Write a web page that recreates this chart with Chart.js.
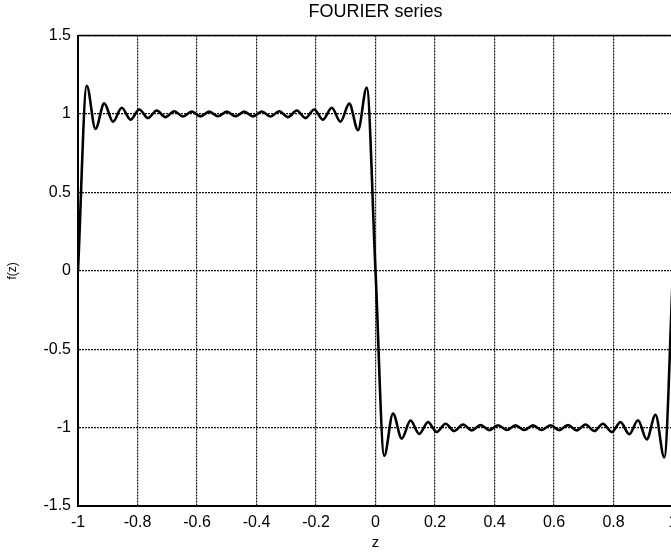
<!DOCTYPE html>
<html>
<head>
<meta charset="utf-8">
<script src="https://cdn.jsdelivr.net/npm/chart.js@4/dist/chart.umd.min.js"></script>
<style>
  html, body { margin: 0; padding: 0; background: #fff; overflow: hidden; }
  #wrap { width: 680px; height: 555px; }
</style>
</head>
<body>
<div id="wrap"><canvas id="c" width="680" height="555"></canvas></div>
<script>
// Partial Fourier sum of the square wave: crossings and ripple extrema
const zValues = [
  -1, -0.9706, -0.9412, -0.9118, -0.8824, -0.8529, -0.8235, -0.7941, -0.7647,
  -0.7353, -0.7059, -0.6765, -0.6471, -0.6176, -0.5882, -0.5588, -0.5294, -0.5,
  -0.4706, -0.4412, -0.4118, -0.3824, -0.3529, -0.3235, -0.2941, -0.2647,
  -0.2353, -0.2059, -0.1765, -0.1471, -0.1176, -0.0882, -0.0588, -0.0294,
  0,
  0.0294, 0.0588, 0.0882, 0.1176, 0.1471, 0.1765, 0.2059, 0.2353, 0.2647,
  0.2941, 0.3235, 0.3529, 0.3824, 0.4118, 0.4412, 0.4706, 0.5, 0.5294, 0.5588,
  0.5882, 0.6176, 0.6471, 0.6765, 0.7059, 0.7353, 0.7647, 0.7941, 0.8235,
  0.8529, 0.8824, 0.9118, 0.9412, 0.9706,
  1
];
const fValues = [
  0, 1.18, 0.905, 1.068, 0.951, 1.04, 0.964, 1.029, 0.974,
  1.022, 0.98, 1.018, 0.984, 1.016, 0.985, 1.015, 0.986, 1.015,
  0.986, 1.015, 0.985, 1.016, 0.984, 1.018, 0.98, 1.022,
  0.974, 1.029, 0.964, 1.04, 0.951, 1.066, 0.897, 1.168,
  0,
  -1.18, -0.91, -1.07, -0.955, -1.04, -0.965, -1.028, -0.975, -1.022,
  -0.98, -1.018, -0.984, -1.016, -0.985, -1.015, -0.986, -1.015, -0.986,
  -1.015, -0.985, -1.016, -0.984, -1.018, -0.98, -1.022, -0.975, -1.028,
  -0.965, -1.042, -0.953, -1.075, -0.918, -1.19,
  0
];

const xTickValues = [-1, -0.8, -0.6, -0.4, -0.2, 0, 0.2, 0.4, 0.6, 0.8, 1];
const xTickLabels = ['-1', '-0.8', '-0.6', '-0.4', '-0.2', '0', '0.2', '0.4', '0.6', '0.8', '1'];
const yTickValues = [-1.5, -1, -0.5, 0, 0.5, 1, 1.5];
const yTickLabels = ['-1.5', '-1', '-0.5', '0', '0.5', '1', '1.5'];

const titleText = 'FOURIER series';
const xAxisTitle = 'z';
const yAxisTitle = 'f(z)';

const FONT = '"Liberation Sans", Arial, Helvetica, sans-serif';

function labelFor(values, labels) {
  return (v) => {
    const i = values.findIndex(t => Math.abs(t - v) < 1e-9);
    return i >= 0 ? labels[i] : '';
  };
}

// solid frame on the top and right edges of the plot box
const framePlugin = {
  id: 'frame',
  afterDatasetsDraw(chart) {
    const { ctx, chartArea: a } = chart;
    ctx.save();
    ctx.strokeStyle = '#000';
    ctx.lineWidth = 1.5;
    ctx.beginPath();
    ctx.moveTo(a.left, a.top);
    ctx.lineTo(a.right, a.top);
    ctx.lineTo(a.right, a.bottom);
    ctx.stroke();
    ctx.restore();
  }
};

new Chart(document.getElementById('c'), {
  type: 'line',
  data: {
    datasets: [{
      data: zValues.map((z, i) => ({ x: z, y: fValues[i] })),
      borderColor: '#000',
      borderWidth: 2.6,
      pointRadius: 0,
      fill: false,
      cubicInterpolationMode: 'monotone'
    }]
  },
  options: {
    responsive: false,
    animation: false,
    devicePixelRatio: 1,
    layout: { padding: { left: 0, right: 7, top: 0, bottom: 0 } },
    plugins: {
      legend: { display: false },
      tooltip: { enabled: false },
      title: {
        display: true,
        fullSize: false,
        text: titleText,
        color: '#000',
        font: { family: FONT, size: 18, weight: 'normal' },
        padding: { top: 1, bottom: 13 }
      }
    },
    scales: {
      x: {
        type: 'linear',
        min: -1,
        max: 1,
        afterBuildTicks: (s) => { s.ticks = xTickValues.map(v => ({ value: v })); },
        afterFit: (s) => { s.height = 49; s.paddingLeft = 0; s.paddingRight = 0; },
        ticks: {
          callback: labelFor(xTickValues, xTickLabels),
          color: '#000',
          font: { family: FONT, size: 16 },
          padding: 7,
          maxRotation: 0,
          autoSkip: false
        },
        grid: { color: '#111', lineWidth: 1.2, drawTicks: false },
        border: { display: true, color: '#000', width: 2, dash: [2, 1] },
        title: {
          display: true,
          text: xAxisTitle,
          color: '#000',
          font: { family: FONT, size: 15 },
          padding: { top: 0, bottom: 3 }
        }
      },
      y: {
        type: 'linear',
        min: -1.5,
        max: 1.5,
        afterBuildTicks: (s) => { s.ticks = yTickValues.map(v => ({ value: v })); },
        afterFit: (s) => { s.width = 78; },
        ticks: {
          callback: labelFor(yTickValues, yTickLabels),
          color: '#000',
          font: { family: FONT, size: 16 },
          padding: 7,
          autoSkip: false
        },
        grid: { color: '#111', lineWidth: 1.2, drawTicks: false },
        border: { display: true, color: '#000', width: 2, dash: [2, 1] },
        title: {
          display: true,
          text: yAxisTitle,
          color: '#000',
          font: { family: FONT, size: 12 },
          padding: { top: 5, bottom: 0 }
        }
      }
    }
  },
  plugins: [framePlugin]
});
</script>
</body>
</html>
